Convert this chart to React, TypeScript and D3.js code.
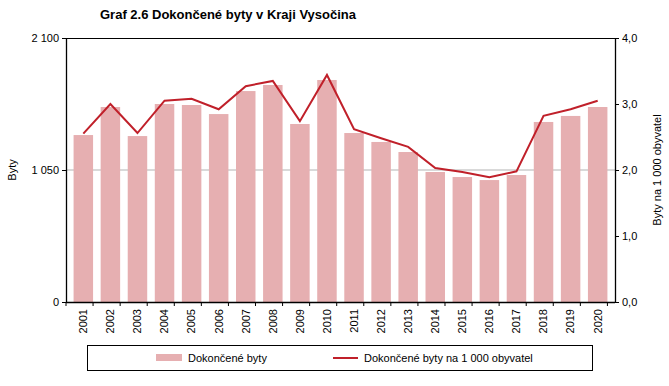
import React, { useEffect, useRef } from "react";
import * as d3 from "d3";

const years = [
  "2001", "2002", "2003", "2004", "2005", "2006", "2007", "2008", "2009", "2010",
  "2011", "2012", "2013", "2014", "2015", "2016", "2017", "2018", "2019", "2020",
];
const dwellings = [
  1328, 1551, 1320, 1575, 1567, 1495, 1678, 1726, 1416, 1766,
  1344, 1273, 1193, 1034, 994, 970, 1010, 1432, 1480, 1551,
];
const perThousand = [
  2.55, 3.0, 2.56, 3.05, 3.08, 2.92, 3.27, 3.35, 2.74, 3.44,
  2.62, 2.48, 2.35, 2.03, 1.97, 1.89, 1.98, 2.82, 2.92, 3.05,
];
const leftTicks = [0, 1050, 2100];
const rightTicks = [0, 1, 2, 3, 4];

const App = () => {
  const svgRef = useRef<SVGSVGElement>(null);

  useEffect(() => {
    const svg = d3.select(svgRef.current);
    svg.selectAll("*").remove();

    const margin = { top: 38, right: 54, bottom: 84, left: 66 };
    const W = 669, H = 386;
    const w = W - margin.left - margin.right;
    const h = H - margin.top - margin.bottom;
    const font = "Liberation Sans, Arial, sans-serif";

    const x = d3.scaleBand().domain(years).range([0, w]).padding(0.28);
    const y = d3.scaleLinear().domain([0, 2100]).range([h, 0]);
    const y2 = d3.scaleLinear().domain([0, 4]).range([h, 0]);

    svg.append("text")
      .attr("x", 100).attr("y", 19)
      .attr("font-family", font).attr("font-size", 13).attr("font-weight", "bold")
      .text("Graf 2.6 Dokončené byty v Kraji Vysočina");

    const g = svg.append("g").attr("transform", `translate(${margin.left},${margin.top})`);

    // gridline
    g.append("line")
      .attr("x1", 0).attr("x2", w)
      .attr("y1", y(1050)).attr("y2", y(1050))
      .attr("stroke", "#b3b3b3");

    g.selectAll(".bar")
      .data(dwellings)
      .join("rect")
      .attr("x", (_, i) => x(years[i])!)
      .attr("y", d => y(d))
      .attr("width", x.bandwidth())
      .attr("height", d => h - y(d))
      .attr("fill", "#e6afb1");

    const line = d3.line<number>()
      .x((_, i) => x(years[i])! + x.bandwidth() / 2)
      .y(d => y2(d));
    g.append("path")
      .datum(perThousand)
      .attr("d", line)
      .attr("fill", "none")
      .attr("stroke", "#c0202a")
      .attr("stroke-width", 2);

    // frame top
    g.append("line").attr("x1", 0).attr("x2", w).attr("y1", 0.5).attr("y2", 0.5).attr("stroke", "#000");

    const left = g.append("g").call(d3.axisLeft(y).tickValues(leftTicks).tickSize(4)
      .tickFormat(d => d3.format(",")(d as number).replace(/,/g, " ")));
    const right = g.append("g").attr("transform", `translate(${w},0)`)
      .call(d3.axisRight(y2).tickValues(rightTicks).tickSize(4)
        .tickFormat(d => (d as number).toFixed(1).replace(".", ",")));
    const bottom = g.append("g").attr("transform", `translate(0,${h})`)
      .call(d3.axisBottom(x).tickSize(0));

    // ticks between categories
    const step = x.step();
    g.selectAll(".sep")
      .data(d3.range(years.length + 1))
      .join("line")
      .attr("x1", i => i * step).attr("x2", i => i * step)
      .attr("y1", h).attr("y2", h + 4)
      .attr("stroke", "#000");

    [left, right, bottom].forEach(a => {
      a.select(".domain").attr("stroke", "#000").attr("stroke-width", 1.3);
      a.selectAll("text").attr("font-family", font).attr("font-size", 11).attr("fill", "#000");
      a.selectAll("line").attr("stroke", "#000");
    });
    bottom.select(".domain").attr("d", `M0,0.5H${w}`);
    left.select(".domain").attr("d", `M0.5,0V${h}`);
    right.select(".domain").attr("d", `M0.5,0V${h}`);

    bottom.selectAll("text")
      .attr("transform", "rotate(-90)")
      .attr("text-anchor", "end")
      .attr("x", -7)
      .attr("y", 0)
      .attr("dy", "0.35em");

    svg.append("text")
      .attr("transform", `translate(16,${margin.top + h / 2}) rotate(-90)`)
      .attr("text-anchor", "middle")
      .attr("font-family", font).attr("font-size", 11)
      .text("Byty");
    svg.append("text")
      .attr("transform", `translate(661,${margin.top + h / 2}) rotate(-90)`)
      .attr("text-anchor", "middle")
      .attr("font-family", font).attr("font-size", 11)
      .text("Byty na 1 000 obyvatel");

    // legend
    const lg = svg.append("g");
    lg.append("rect").attr("x", 87.5).attr("y", 345.5).attr("width", 505).attr("height", 25)
      .attr("fill", "#fff").attr("stroke", "#000");
    lg.append("rect").attr("x", 156).attr("y", 354).attr("width", 26).attr("height", 7).attr("fill", "#e6afb1");
    lg.append("text").attr("x", 188).attr("y", 362)
      .attr("font-family", font).attr("font-size", 11).text("Dokončené byty");
    lg.append("line").attr("x1", 333).attr("x2", 358).attr("y1", 358).attr("y2", 358)
      .attr("stroke", "#c0202a").attr("stroke-width", 2);
    lg.append("text").attr("x", 364).attr("y", 362)
      .attr("font-family", font).attr("font-size", 11).text("Dokončené byty na 1 000 obyvatel");
  }, []);

  return <svg ref={svgRef} width={669} height={386} style={{ display: "block", position: "absolute", left: 0, top: 0 }} />;
};

export default App;
